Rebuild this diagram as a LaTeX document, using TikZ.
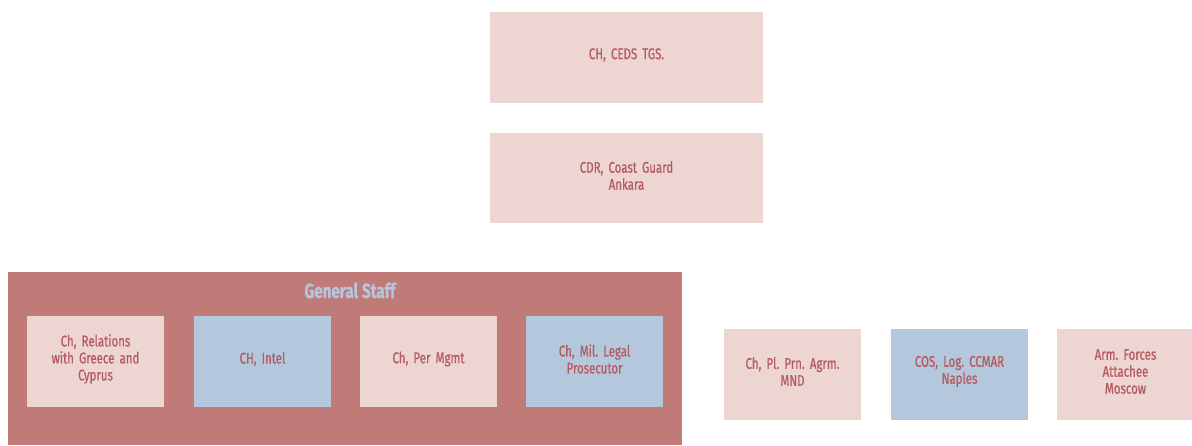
\documentclass[tikz,border=0pt]{standalone}
\usepackage{fontspec}
\setmainfont[FakeStretch=0.74, WordSpace=0.75, FakeBold=0.6]{Fira Sans}
\frenchspacing
\definecolor{pinkbox}{HTML}{EDD5D1}
\definecolor{bluebox}{HTML}{B4C8DD}
\definecolor{staffred}{HTML}{C07A77}
\definecolor{txtred}{HTML}{B55A5E}
\tikzset{
  unitbox/.style={rectangle, inner sep=0pt, minimum width=137pt, minimum height=91pt,
    text width=125pt, align=center, text=txtred, font=\frenchspacing\fontsize{15.5}{17}\selectfont,
    execute at end node={\par\kern5pt}},
  pinkunit/.style={unitbox, fill=pinkbox},
  blueunit/.style={unitbox, fill=bluebox},
  topunit/.style={pinkunit, minimum width=273pt, minimum height=91pt, text width=250pt},
}
\begin{document}
\begin{tikzpicture}[x=1pt,y=-1pt]
\useasboundingbox (0,0) rectangle (1192,445);
\node[topunit] (ceds) at (626.5,57.5) {CH, CEDS TGS.};
\node[topunit, minimum height=90pt] (cg) at (626.5,178) {CDR, Coast Guard\\Ankara};
\node[fill=staffred, inner sep=0pt, minimum width=674pt, minimum height=173pt] (staff) at (345,358.5) {};
\node[text=bluebox, font=\bfseries\fontsize{20.5}{22}\selectfont, anchor=base] (stafftitle) at (350,298) {General\hspace{4pt}Staff};
\node[pinkunit] (rel) at (95.5,361.5) {Ch, Relations\\with Greece and\\Cyprus};
\node[blueunit] (intel) at (262.5,361.5) {CH, Intel};
\node[pinkunit] (per) at (428.5,361.5) {Ch, Per Mgmt};
\node[blueunit] (legal) at (594.5,361.5) {Ch, Mil. Legal\\Prosecutor};
\node[pinkunit] (mnd) at (792.5,374) {Ch, Pl. Prn. Agrm.\\MND};
\node[blueunit] (naples) at (959.5,374) {COS, Log. CCMAR\\Naples};
\node[pinkunit] (moscow) at (1125.5,374) {Arm. Forces\\Attachee\\Moscow};
\end{tikzpicture}
\end{document}
